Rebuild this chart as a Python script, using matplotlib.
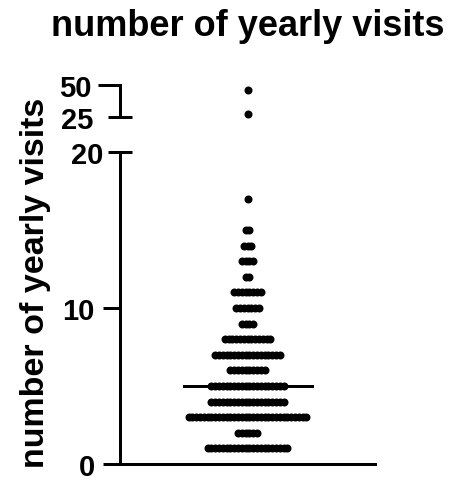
import numpy as np
import matplotlib.pyplot as plt

# Data: visits per year and how many subjects had that value
values = [1, 2, 3, 4, 5, 6, 7, 8, 9, 10, 11, 12, 13, 14, 15, 17, 27, 46]
counts = [22, 6, 32, 20, 20, 10, 18, 13, 4, 7, 8, 2, 4, 3, 2, 1, 1, 1]
yticks_low = [0, 10]
yticks_high = [50]
break_low, break_high = 20, 25
title = 'number of yearly visits'
ylabel = 'number of yearly visits'

plt.rcParams['font.family'] = ['Liberation Sans', 'DejaVu Sans']
plt.rcParams['font.weight'] = 'bold'

W, H = 455, 485
fig = plt.figure(figsize=(W / 100, H / 100), dpi=100)

px = 0.72  # points per pixel at dpi 100
ax_left, ax_right = 120, 375
low_top, low_bot = 153, 465
high_top, high_bot = 86, 118

ax = fig.add_axes([ax_left / W, 1 - low_bot / H, (ax_right - ax_left) / W, (low_bot - low_top) / H])
ax2 = fig.add_axes([ax_left / W, 1 - high_bot / H, (ax_right - ax_left) / W, (high_bot - high_top) / H])

# swarm layout: one row per value, dots spread sideways
spacing = 3.8
center = (ax_right - ax_left) / 2
data = np.repeat(values, counts)
xs, ys = [], []
for v, n in zip(values, counts):
    for i in range(n):
        xs.append(center + (i - (n - 1) / 2) * spacing)
        ys.append(v)
xs = np.array(xs)
ys = np.array(ys)

low = ys <= break_low
high = ys >= break_high
ax.scatter(xs[low], ys[low], s=(8 * px) ** 2, color='black', linewidths=0, clip_on=False, zorder=3)
ax2.scatter(xs[high], ys[high], s=(8 * px) ** 2, color='black', linewidths=0, clip_on=False, zorder=3)

for a in (ax, ax2):
    a.set_xlim(0, ax_right - ax_left)
    for s in ['top', 'right']:
        a.spines[s].set_visible(False)
    a.spines['left'].set_linewidth(3 * px)
    a.spines['bottom'].set_linewidth(3 * px)
    a.set_xticks([])
    a.tick_params(axis='y', which='major', width=3 * px, labelsize=21)
    a.tick_params(axis='y', which='minor', width=3 * px, labelsize=21)

ax2.spines['bottom'].set_visible(False)

med = np.median(data)
ax.plot([center - 64, center + 64], [med, med], color='black', lw=3 * px, zorder=4)

# lower segment
ax.set_ylim(0, break_low)
ax.set_yticks(yticks_low)
ax.set_yticklabels([str(t) for t in yticks_low], fontweight='bold')
ax.tick_params(axis='y', which='major', length=17 * px, pad=8 * px)
ax.set_yticks([break_low], minor=True)
ax.set_yticklabels([str(break_low)], minor=True, fontweight='bold')
ax.tick_params(axis='y', which='minor', length=12 * px, pad=5 * px)
ax.plot([0, 12 / (ax_right - ax_left)], [break_low, break_low], color='black', lw=3 * px,
        transform=ax.get_yaxis_transform(), clip_on=False, solid_capstyle='butt')

# upper segment
ax2.set_ylim(break_high, 50)
ax2.set_yticks(yticks_high)
ax2.set_yticklabels([str(t) for t in yticks_high], fontweight='bold')
ax2.tick_params(axis='y', which='major', length=22 * px, pad=6 * px)
ax2.set_yticks([break_high], minor=True)
ax2.set_yticklabels([str(break_high)], minor=True, fontweight='bold')
ax2.tick_params(axis='y', which='minor', length=12 * px, pad=15 * px)
ax2.plot([0, 12 / (ax_right - ax_left)], [break_high, break_high], color='black', lw=3 * px,
         transform=ax2.get_yaxis_transform(), clip_on=False, solid_capstyle='butt')

fig.text(248 / W, 1 - 27 / H, title, ha='center', va='center', fontsize=26, fontweight='bold')
fig.text(36 / W, 1 - 283 / H, ylabel, ha='center', va='center', rotation=90, fontsize=24.5, fontweight='bold')

fig.savefig('out.png', dpi=100)
